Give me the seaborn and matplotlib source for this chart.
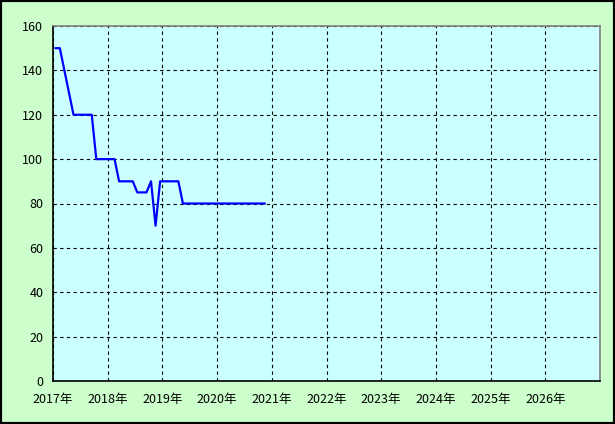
"""Monthly price history, 2017-2020, on a ten-year axis."""

import matplotlib

matplotlib.use("Agg")
import matplotlib.pyplot as plt
import pandas as pd
import seaborn as sns
from matplotlib.patches import Rectangle

START_MONTH = "2017-01"
VALUES = [
    150, 150, 140, 130, 120, 120, 120, 120, 120, 100, 100, 100,  # 2017
    100, 100, 90, 90, 90, 90, 85, 85, 85, 90, 70, 90,  # 2018
    90, 90, 90, 90, 80, 80, 80, 80, 80, 80, 80, 80,  # 2019
    80, 80, 80, 80, 80, 80, 80, 80, 80, 80, 80,  # 2020 (to Nov)
]
YEAR_TICKS = list(range(2017, 2027))
YEAR_LABELS = [f"{y}年" for y in YEAR_TICKS]
Y_TICKS = [0, 20, 40, 60, 80, 100, 120, 140, 160]


def main() -> None:
    sns.set_theme(style="white")
    plt.rcParams["font.family"] = ["Noto Sans CJK JP", "DejaVu Sans"]

    months = pd.period_range(START_MONTH, periods=len(VALUES), freq="M")
    df = pd.DataFrame(
        {
            "x": months.year + (months.month - 0.5) / 12,
            "value": VALUES,
        }
    )

    fig = plt.figure(figsize=(6.15, 4.24), dpi=100, facecolor="#ccffcc")
    fig.patches.append(
        Rectangle((0, 0), 1, 1, transform=fig.transFigure, fill=False,
                  edgecolor="black", linewidth=3)
    )
    ax = fig.add_axes([53 / 615, 43 / 424, 547 / 615, 355 / 424])
    ax.set_facecolor("#ccffff")

    sns.lineplot(data=df, x="x", y="value", color="#0000ff", linewidth=1.6, ax=ax)

    ax.set_xlim(2017, 2027)
    ax.set_ylim(0, 160)
    ax.set_xticks(YEAR_TICKS)
    ax.set_xticklabels(YEAR_LABELS)
    ax.set_yticks(Y_TICKS)
    ax.tick_params(axis="both", length=0, labelsize=9, colors="black", pad=7)
    ax.tick_params(axis="x", pad=9)
    ax.set_xlabel("")
    ax.set_ylabel("")

    ax.grid(True, color="black", linestyle=(0, (3, 3)), linewidth=0.8)
    for side in ("left", "bottom"):
        ax.spines[side].set_color("black")
        ax.spines[side].set_linewidth(1.2)
    for side in ("top", "right"):
        ax.spines[side].set_color("#808080")
        ax.spines[side].set_linewidth(1.2)

    fig.savefig("out.png", dpi=100, facecolor=fig.get_facecolor())
    plt.close(fig)


if __name__ == "__main__":
    main()
